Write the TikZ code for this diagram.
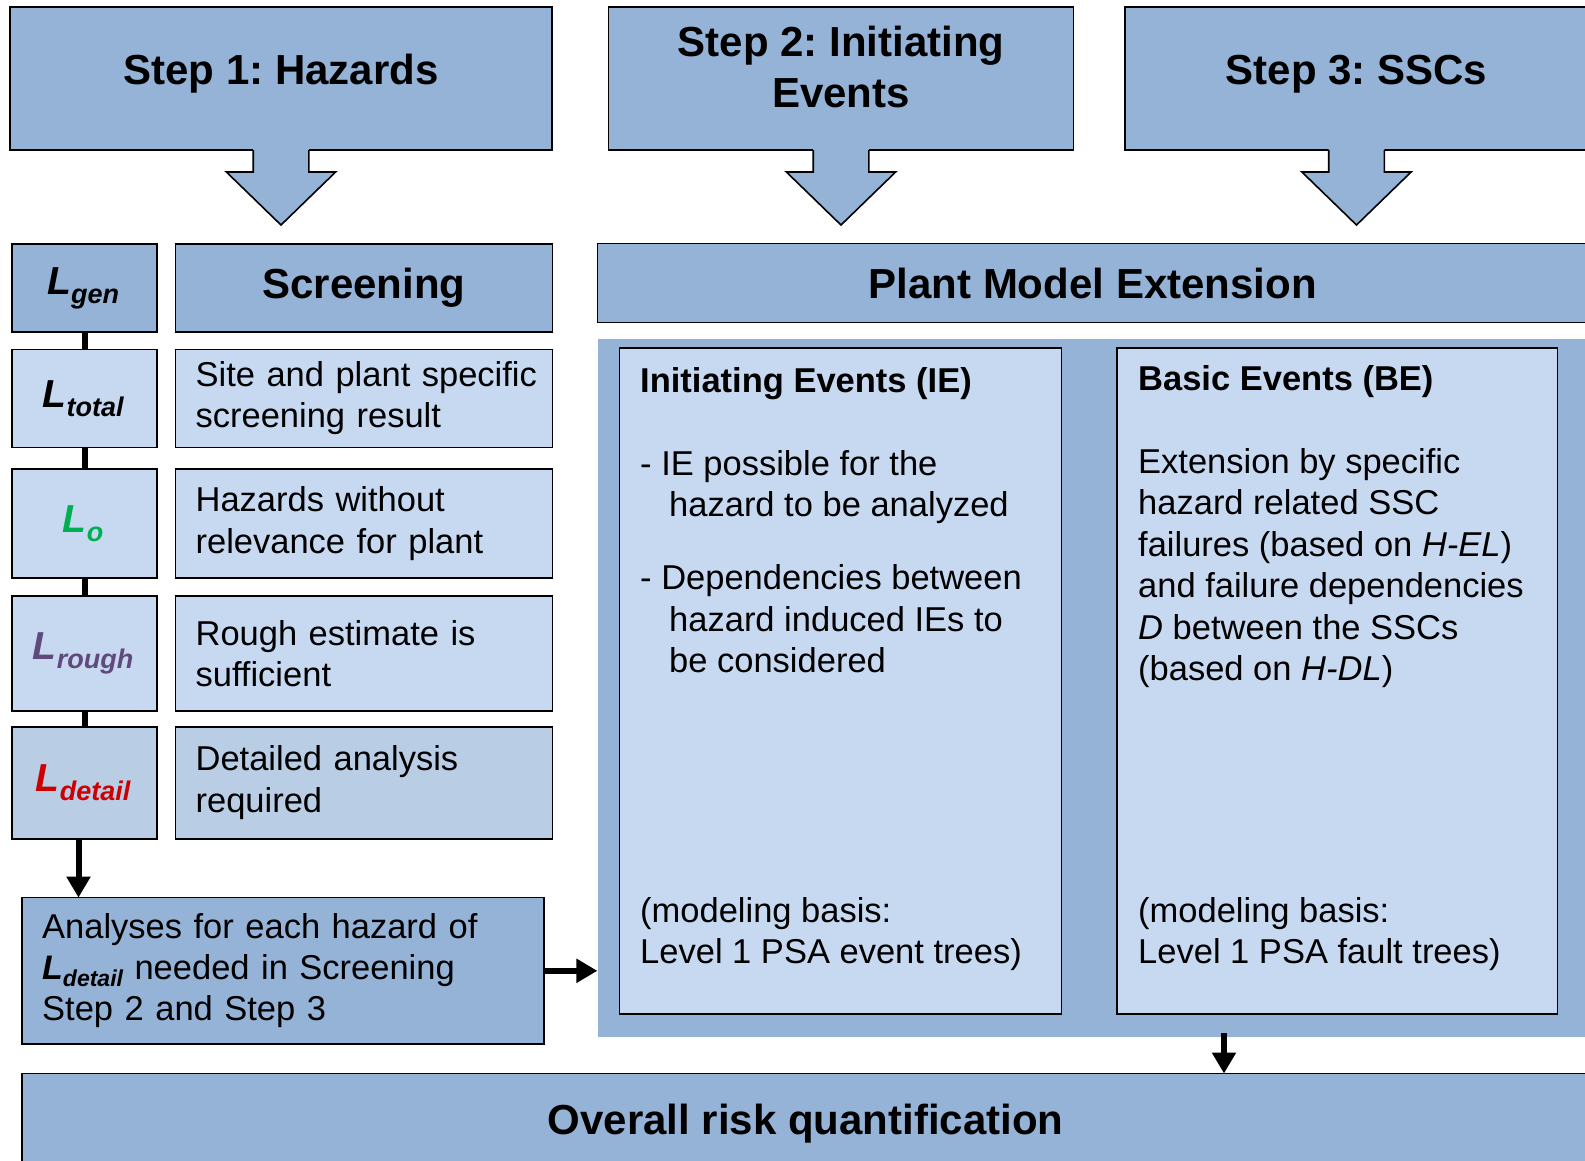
\documentclass[tikz,border=0pt]{standalone}
\usepackage{fontspec}
\setmainfont{Liberation Sans}
\frenchspacing
\usetikzlibrary{matrix,arrows.meta,positioning}

\definecolor{boxdark}{HTML}{95B3D7}
\definecolor{boxlight}{HTML}{C6D9F1}
\definecolor{boxmid}{HTML}{B9CDE5}
\definecolor{lgreen}{HTML}{00B050}
\definecolor{lpurple}{HTML}{604A7B}
\definecolor{lred}{HTML}{CC0000}

\def\Lsym#1#2{\textcolor{#1}{\fontsize{39}{39}\selectfont\bfseries\itshape L\raisebox{-9pt}{\fontsize{27}{27}\selectfont #2}}}
\def\Lsmall#1{{\fontsize{34}{41}\selectfont\bfseries\itshape L\raisebox{-7pt}{\fontsize{23}{23}\selectfont #1}}}

\tikzset{
  stepbox/.style={draw, line width=1.6pt, fill=boxdark, inner sep=0pt, outer sep=0pt},
  innerbox/.style={draw, line width=1.6pt, fill=boxlight, inner sep=0pt, outer sep=0pt},
  steptitle/.style={inner sep=0pt, align=center, font=\fontsize{42}{51}\selectfont\bfseries},
  boxtext/.style={anchor=north west, inner sep=0pt, align=left, font=\fontsize{34.5}{41.5}\selectfont},
  link/.style={line width=6pt},
  flow/.style={line width=6pt, -{Triangle[width=23pt,length=21pt]}},
}

\def\DownArrow#1{
  \fill[boxdark] ([xshift=-27.8pt]#1.south) ++(0,-1.5) -- ++(0,23.5) -- ++(-26.8,0) -- ++(54.6,53)
    -- ++(54.6,-53) -- ++(-26.8,0) -- ++(0,-23.5) -- cycle;
  \draw[line width=1.6pt] ([xshift=-27.8pt]#1.south) -- ++(0,22) -- ++(-26.8,0) -- ++(54.6,53)
    -- ++(54.6,-53) -- ++(-26.8,0) -- ++(0,-22);
}

\def\ScreeningColumn{
    \matrix (screen)
    [matrix of nodes,
    ampersand replacement=\&,
    anchor=north west,
    inner sep=0pt, outer sep=0pt,
    column sep={17pt},
    row sep={0pt},
    nodes={draw, line width=1.6pt, outer sep=0pt, inner xsep=20pt, inner ysep=3pt, rectangle, anchor=center},
    column 1/.style={nodes={minimum width=145pt, inner xsep=0pt, align=center}},
    column 2/.style={nodes={text width=337pt, align=left, font=\fontsize{34.5}{41.5}\selectfont}},
    row 1/.style={nodes={fill=boxdark, minimum height=88pt}},
    row 2/.style={nodes={fill=boxlight, minimum height=98pt}},
    row 3/.style={nodes={fill=boxlight, minimum height=109pt}},
    row 4/.style={nodes={fill=boxlight, minimum height=115pt}},
    row 5/.style={nodes={fill=boxmid, minimum height=112pt}}]
    at (11.2,243.2)
    {
     \Lsym{black}{gen} \& |[align=center, font=\fontsize{42}{50}\selectfont\bfseries]| Screening \\[15.7pt]
     \Lsym{black}{total} \& {\mbox{Site and plant specific}\\screening result} \\[20.2pt]
     \Lsym{lgreen}{o} \& {\mbox{Hazards without}\\\mbox{relevance for plant}} \\[16.3pt]
     \Lsym{lpurple}{rough} \& {\mbox{Rough estimate is}\\sufficient} \\[14.2pt]
     \Lsym{lred}{detail} \& {\mbox{Detailed analysis}\\required} \\
    };
}

\begin{document}
\begin{tikzpicture}[x=1pt, y=-1pt]
  \useasboundingbox (0,0) rectangle (1585,1160);
  \clip (0,0) rectangle (1585,1160);

  % three steps
  \node[stepbox, anchor=north west, minimum width=542pt, minimum height=143pt] (stepone) at (10,7) {};
  \node[stepbox, anchor=north west, minimum width=465pt, minimum height=143pt] (steptwo) at (608.5,7) {};
  \node[stepbox, anchor=north west, minimum width=463pt, minimum height=143pt] (stepthree) at (1125,7) {};
  \node[steptitle, anchor=base] (stepone-t) at ([yshift=-5.5pt]stepone.center) {Step 1: Hazards};
  \node[steptitle] (steptwo-t) at ([yshift=11.3pt]steptwo.center) {Step 2: Initiating\\Events};
  \node[steptitle, anchor=base] (stepthree-t) at ([yshift=-5.5pt]stepthree.center) {Step 3: SSCs};
  \DownArrow{stepone}
  \DownArrow{steptwo}
  \DownArrow{stepthree}

  \ScreeningColumn
  \foreach \a/\b in {1/2,2/3,3/4,4/5}
    \draw[link] (screen-\a-1.south) -- (screen-\b-1.north);

  \node[stepbox, anchor=north west, minimum width=521.6pt, minimum height=146.4pt, text width=481.6pt,
    inner xsep=20pt, align=left, font=\fontsize{34.5}{41}\selectfont] (analyses) at (22.2,897.6)
    {Analyses for each hazard of\\ \Lsmall{detail} needed in Screening\\ Step 2 and Step 3};
  \coordinate (drop) at ([xshift=-6pt]screen-5-1.south);
  \draw[flow] (drop) -- (drop |- analyses.north);

  % plant model extension
  \node[stepbox, anchor=north west, minimum width=990.6pt, minimum height=78.8pt,
    font=\fontsize{42}{50}\selectfont\bfseries] (pme) at (597.4,243.6) {Plant Model Extension};
  \node[fill=boxdark, inner sep=0pt, anchor=north west, minimum width=992.6pt, minimum height=698.4pt] (panel) at (597.4,338.6) {};
  \node[innerbox, anchor=north west, minimum width=441.7pt, minimum height=666.1pt] (iebox) at (619.6,347.7) {};
  \node[innerbox, anchor=north west, minimum width=440.6pt, minimum height=666.1pt] (bebox) at (1117,347.7) {};

  \node[boxtext] (ie-top) at ([xshift=20.4pt,yshift=-14.3pt]iebox.north west)
    {\rule{0pt}{30pt}\textbf{Initiating Events (IE)}\\[41.5pt]
     - IE possible for the\\ \hspace*{29pt}hazard to be analyzed\\[31.5pt]
     - Dependencies between\\ \hspace*{29pt}hazard induced IEs to\\ \hspace*{29pt}be considered};
  \node[boxtext] (ie-bottom) at ([xshift=20.4pt,yshift=-544.3pt]iebox.north west)
    {\rule{0pt}{30pt}(modeling basis:\\Level 1 PSA event trees)};
  \node[boxtext] (be-top) at ([xshift=21pt,yshift=-12.3pt]bebox.north west)
    {\rule{0pt}{30pt}\textbf{Basic Events (BE)}\\[41.5pt]
     Extension by specific\\ hazard related SSC\\ failures (based on \textit{H-EL})\\
     and failure dependencies\\ \textit{D} between the SSCs\\ (based on \textit{H-DL})};
  \node[boxtext] (be-bottom) at ([xshift=21pt,yshift=-544.3pt]bebox.north west)
    {\rule{0pt}{30pt}(modeling basis:\\Level 1 PSA fault trees)};

  \draw[flow] (analyses.east) -- (analyses.east -| panel.west);

  \node[stepbox, anchor=north west, minimum width=1567pt, minimum height=101pt,
    font=\fontsize{42}{50}\selectfont\bfseries] (overall) at (22.2,1073.5) {Overall risk quantification};
  \coordinate (tap) at (1224,1033);
  \draw[flow] (tap) -- (tap |- overall.north);
  % \draw[red] (panel.north west) rectangle (panel.south east);
\end{tikzpicture}
\end{document}
